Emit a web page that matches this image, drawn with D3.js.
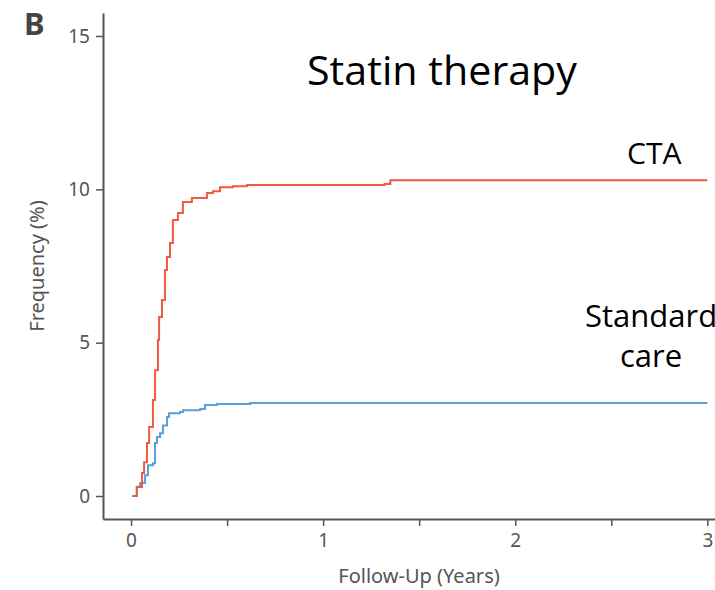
<!DOCTYPE html>
<html>
<head>
<meta charset="utf-8">
<script src="https://cdn.jsdelivr.net/npm/d3@7"></script>
<style>
  html, body { margin: 0; padding: 0; background: #fff; }
  svg { display: block; }
</style>
</head>
<body>
<svg id="chart" width="715" height="590"></svg>
<script>
// ---- Data ----
const ctaTime  = [0.01, 0.03, 0.057, 0.068, 0.083, 0.094, 0.114, 0.125, 0.14, 0.146, 0.161, 0.177, 0.187, 0.203, 0.218, 0.244, 0.27, 0.317, 0.395, 0.426, 0.463, 0.53, 0.603, 1.32, 1.35, 3.0];
const ctaValue = [0,    0.29, 0.75,  1.1,   1.73,  2.25,  3.13,  4.1,   5.09, 5.84,  6.39,  7.37,  7.79,  8.25,  9.0,   9.23,  9.59, 9.72,  9.88,  9.94,  10.07, 10.1, 10.14, 10.17, 10.3, 10.3];

const stdTime  = [0.005, 0.03, 0.047, 0.073, 0.088, 0.114, 0.125, 0.135, 0.151, 0.166, 0.187, 0.198, 0.255, 0.27, 0.36, 0.385, 0.447, 0.62, 3.0];
const stdValue = [0,     0.3,  0.42,  0.68,  1.0,   1.07,  1.73,  1.92,  2.05,  2.3,   2.58,  2.7,   2.74,  2.8,  2.84, 2.97,  3.0,   3.03, 3.03];

const xTicksMajor = [0, 1, 2, 3];
const xTicksMinor = [0.5, 1.5, 2.5];
const yTicks = [0, 5, 10, 15];

const titleText = "Statin therapy";
const panelLabel = "B";
const xTitle = "Follow-Up (Years)";
const yTitle = "Frequency (%)";

// ---- Layout ----
const svg = d3.select("#chart");
const axisColor = "#555";
const redColor = "#f05a45";
const blueColor = "#5a9fd8";

const x = d3.scaleLinear().domain([-0.146, 3.04]).range([103, 715]);
const y = d3.scaleLinear().domain([-0.75, 15.75]).range([519, 13]);

const tickFont = "'Noto Sans', 'Open Sans', sans-serif";

// Y axis
const yAxis = d3.axisLeft(y).tickValues(yTicks).tickFormat(d3.format("d"))
  .tickSize(7).tickPadding(6).tickSizeOuter(0);
const gy = svg.append("g").attr("transform", `translate(${x.range()[0]},0)`).call(yAxis);
gy.select(".domain").attr("stroke", axisColor).attr("stroke-width", 2);
gy.selectAll(".tick line").attr("stroke", axisColor).attr("stroke-width", 1.5);
gy.selectAll(".tick text").attr("fill", axisColor).attr("font-size", 19).attr("font-family", tickFont);

// X axis
const xAxis = d3.axisBottom(x).tickValues(xTicksMajor).tickFormat(d3.format("d"))
  .tickSize(7).tickPadding(8).tickSizeOuter(0);
const gx = svg.append("g").attr("transform", `translate(0,${y.range()[0]})`).call(xAxis);
gx.select(".domain").attr("stroke", axisColor).attr("stroke-width", 2);
gx.selectAll(".tick line").attr("stroke", axisColor).attr("stroke-width", 1.5);
gx.selectAll(".tick text").attr("fill", axisColor).attr("font-size", 19).attr("font-family", tickFont);
const gxm = svg.append("g").attr("transform", `translate(0,${y.range()[0]})`)
  .call(d3.axisBottom(x).tickValues(xTicksMinor).tickSize(7).tickFormat(""));
gxm.select(".domain").remove();
gxm.selectAll(".tick line").attr("stroke", axisColor).attr("stroke-width", 1.5);

// Axis titles
svg.append("text")
  .attr("x", 419).attr("y", 583)
  .attr("text-anchor", "middle").attr("fill", axisColor)
  .attr("font-size", 20).attr("font-family", tickFont)
  .text(xTitle);

svg.append("text")
  .attr("transform", "translate(44,266) rotate(-90)")
  .attr("text-anchor", "middle").attr("fill", axisColor)
  .attr("font-size", 20).attr("font-family", tickFont)
  .text(yTitle);

// Panel label
svg.append("text")
  .attr("x", 24).attr("y", 35)
  .attr("fill", "#444").attr("font-weight", "bold")
  .attr("font-size", 31).attr("font-family", tickFont)
  .text(panelLabel);

// Lines
const line = d3.line().curve(d3.curveStepAfter).x(d => x(d[0])).y(d => y(d[1]));
const ctaData = ctaTime.map((t, i) => [t, ctaValue[i]]);
const stdData = stdTime.map((t, i) => [t, stdValue[i]]);

svg.append("path").datum(stdData).attr("d", line)
  .attr("fill", "none").attr("stroke", blueColor).attr("stroke-width", 2);
svg.append("path").datum(ctaData).attr("d", line)
  .attr("fill", "none").attr("stroke", redColor).attr("stroke-width", 2);

// Annotations
const annFont = "'Open Sans', 'Liberation Sans', sans-serif";
svg.append("text").attr("x", 307).attr("y", 85)
  .attr("font-size", 41).attr("font-family", annFont).attr("fill", "#000")
  .attr("textLength", 270).attr("lengthAdjust", "spacingAndGlyphs")
  .text(titleText);

svg.append("text").attr("x", 627).attr("y", 164)
  .attr("font-size", 30).attr("font-family", annFont).attr("fill", "#000")
  .text("CTA");
svg.append("text").attr("x", 585).attr("y", 327)
  .attr("font-size", 31).attr("font-family", annFont).attr("fill", "#000")
  .text("Standard");
svg.append("text").attr("x", 620).attr("y", 367)
  .attr("font-size", 31).attr("font-family", annFont).attr("fill", "#000")
  .text("care");
</script>
</body>
</html>
